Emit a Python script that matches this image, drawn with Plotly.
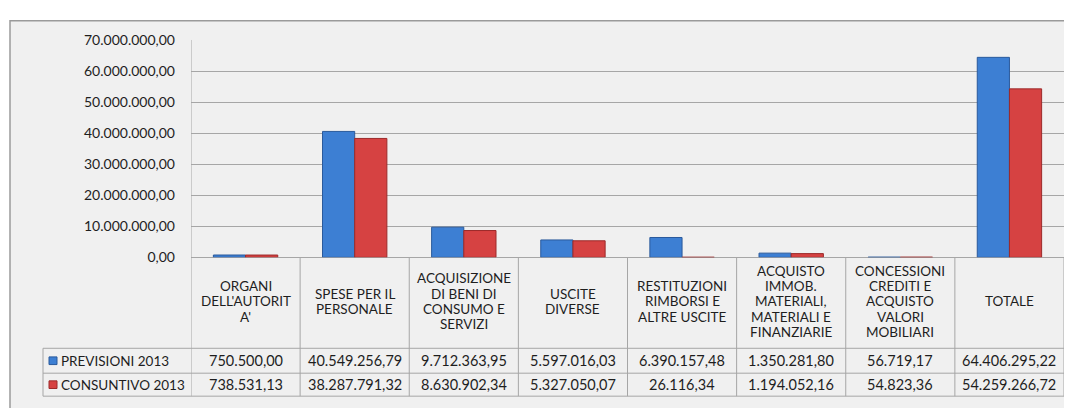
import plotly.graph_objects as go

categories = [
    "ORGANI<br>DELL'AUTORIT<br>A'",
    "SPESE PER IL<br>PERSONALE",
    "ACQUISIZIONE<br>DI BENI DI<br>CONSUMO E<br>SERVIZI",
    "USCITE<br>DIVERSE",
    "RESTITUZIONI<br>RIMBORSI E<br>ALTRE USCITE",
    "ACQUISTO<br>IMMOB.<br>MATERIALI,<br>MATERIALI E<br>FINANZIARIE",
    "CONCESSIONI<br>CREDITI E<br>ACQUISTO<br>VALORI<br>MOBILIARI",
    "TOTALE",
]
series_names = ["PREVISIONI 2013", "CONSUNTIVO 2013"]
previsioni = [750500.00, 40549256.79, 9712363.95, 5597016.03, 6390157.48, 1350281.80, 56719.17, 64406295.22]
consuntivo = [738531.13, 38287791.32, 8630902.34, 5327050.07, 26116.34, 1194052.16, 54823.36, 54259266.72]
tick_values = [0, 10000000, 20000000, 30000000, 40000000, 50000000, 60000000, 70000000]

# page has an 8px body margin: figure is 1064x400 placed at (8, 8)
OFF = 8
W, H = 1072 - OFF, 408 - OFF
BG = "#f0f0f0"
GRID = "#a6a6a6"
FRAME = "#9a9a9a"
FONT = "Lato"
TXT = "#1e1e1e"
BLUE, BLUE_EDGE = "#3d7fd3", "#2a5a9c"
RED, RED_EDGE = "#d64242", "#9c2a2a"


def px(x):
    return (x - OFF) / W


def py(y):
    return (H - (y - OFF)) / H


def it_fmt(v):
    s = f"{v:,.2f}"
    return s.replace(",", "X").replace(".", ",").replace("X", ".")


n = len(categories)
xs = list(range(n))

fig = go.Figure()
fig.add_trace(go.Bar(x=xs, y=previsioni, name=series_names[0],
                     marker=dict(color=BLUE, line=dict(color=BLUE_EDGE, width=1))))
fig.add_trace(go.Bar(x=xs, y=consuntivo, name=series_names[1],
                     marker=dict(color=RED, line=dict(color=RED_EDGE, width=1))))

PLOT_L, PLOT_R = 191, 1064
Y_TOP, Y_ZERO = 32, 259
ROW1_TOP, ROW2_TOP, TABLE_BOT = 354, 380, 404
LEG_L = 43

shapes = []
# outer chart frame (extends past right/bottom edge as in the reference)
shapes.append(dict(type="rect", xref="paper", yref="paper", x0=px(10), x1=1.05, y0=-0.05, y1=py(12),
                   line=dict(color=FRAME, width=1.5), fillcolor=BG, layer="below"))
# table vertical lines at category boundaries
for i in range(n + 1):
    shapes.append(dict(type="line", xref="x", yref="paper", x0=i - 0.5, x1=i - 0.5,
                       y0=py(TABLE_BOT), y1=py(Y_ZERO), line=dict(color=GRID, width=1)))
# left axis line through chart
shapes.append(dict(type="line", xref="x", yref="paper", x0=-0.5, x1=-0.5,
                   y0=py(Y_ZERO), y1=py(Y_TOP), line=dict(color=GRID, width=1)))
# table horizontal lines
for yy in (ROW1_TOP, ROW2_TOP, TABLE_BOT):
    shapes.append(dict(type="line", xref="paper", yref="paper", x0=px(LEG_L), x1=px(PLOT_R),
                       y0=py(yy), y1=py(yy), line=dict(color=GRID, width=1)))
# legend column left line
shapes.append(dict(type="line", xref="paper", yref="paper", x0=px(LEG_L), x1=px(LEG_L),
                   y0=py(TABLE_BOT), y1=py(ROW1_TOP), line=dict(color=GRID, width=1)))

annotations = []
HDR_MID = 305
LINE_GAP = 16
r1_mid = (ROW1_TOP + ROW2_TOP) / 2
r2_mid = (ROW2_TOP + TABLE_BOT) / 2
for i, cat in enumerate(categories):
    lines = cat.split("<br>")
    first = HDR_MID - LINE_GAP * (len(lines) - 1) / 2
    for k, line in enumerate(lines):
        annotations.append(dict(x=i, y=py(first + k * LINE_GAP), xref="x", yref="paper", text=line,
                                showarrow=False, font=dict(family=FONT, size=13.5, color=TXT),
                                xanchor="center", yanchor="middle"))
    annotations.append(dict(x=i, y=py(r1_mid), xref="x", yref="paper", text=it_fmt(previsioni[i]),
                            showarrow=False, font=dict(family=FONT, size=14.5, color=TXT),
                            xanchor="center", yanchor="middle"))
    annotations.append(dict(x=i, y=py(r2_mid), xref="x", yref="paper", text=it_fmt(consuntivo[i]),
                            showarrow=False, font=dict(family=FONT, size=14.5, color=TXT),
                            xanchor="center", yanchor="middle"))

# legend keys in the table
for name, mid, col, edge in ((series_names[0], r1_mid, BLUE, BLUE_EDGE), (series_names[1], r2_mid, RED, RED_EDGE)):
    shapes.append(dict(type="rect", xref="paper", yref="paper", x0=px(49), x1=px(57),
                       y0=py(mid + 4), y1=py(mid - 4), fillcolor=col, line=dict(color=edge, width=1)))
    annotations.append(dict(x=px(59), y=py(mid), xref="paper", yref="paper", text=name, showarrow=False,
                            font=dict(family=FONT, size=13.5, color=TXT),
                            xanchor="left", yanchor="middle"))

fig.update_layout(
    width=W, height=H, autosize=False,
    margin=dict(l=0, r=0, t=0, b=0),
    paper_bgcolor="white", plot_bgcolor="rgba(0,0,0,0)",
    separators=",.",
    barmode="group", bargap=0.41, bargroupgap=0,
    showlegend=False,
    shapes=shapes, annotations=annotations,
    xaxis=dict(domain=[px(PLOT_L), px(PLOT_R)], range=[-0.5, n - 0.5], showticklabels=False,
               showgrid=False, zeroline=False, showline=False, fixedrange=True),
    yaxis=dict(domain=[py(Y_ZERO), py(Y_TOP)], range=[0, 70000000], tickvals=tick_values,
               tickformat=",.2f", showgrid=True, gridcolor=GRID, gridwidth=1,
               zeroline=True, zerolinecolor=GRID, zerolinewidth=1,
               showline=False, ticks="", ticklabelstandoff=15,
               tickfont=dict(family=FONT, size=14, color=TXT)),
)

fig.write_html("out.html")
